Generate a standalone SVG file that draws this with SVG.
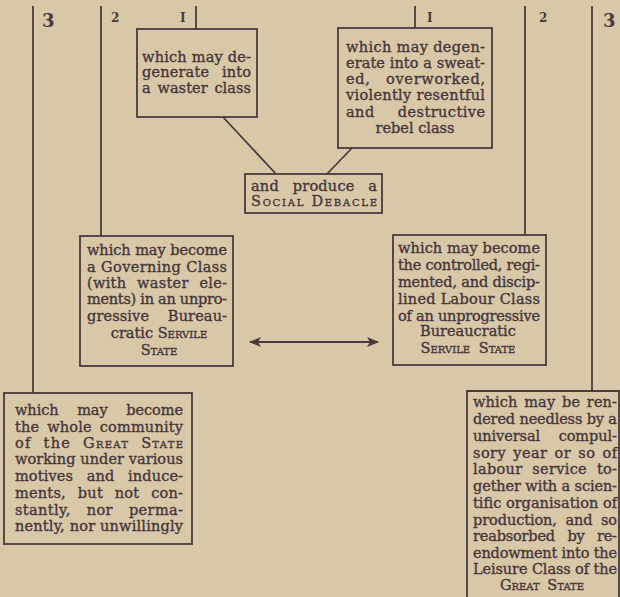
<svg xmlns="http://www.w3.org/2000/svg" width="620" height="597" viewBox="0 0 620 597">
<style>
.bg{fill:#d9c8a8}
.box{fill:none;stroke:#4a3a3e;stroke-width:1.8}
.ln{stroke:#4a3a3e;stroke-width:1.8;fill:none}
.t{font-family:"DejaVu Serif","Liberation Serif",serif;font-size:14.5px;fill:#45363a;stroke:#45363a;stroke-width:0.35}
.c{text-anchor:middle}
.sc{font-variant:small-caps}
.num{font-family:"DejaVu Serif","Liberation Serif",serif;font-weight:bold;fill:#4a3a3e}
</style>
<defs>
<marker id="ah" viewBox="0 0 12 10" refX="11" refY="5" markerWidth="12" markerHeight="10" markerUnits="userSpaceOnUse" orient="auto-start-reverse">
<path d="M0,0 L12,5 L0,10 L3,5 Z" fill="#4a3a3e"/>
</marker>
</defs>
<rect class="bg" x="0" y="0" width="620" height="597"/>

<g id="connectors">
<line class="ln" x1="33" y1="6" x2="33" y2="393"/>
<line class="ln" x1="101" y1="6" x2="101" y2="236"/>
<line class="ln" x1="196" y1="6" x2="196" y2="29"/>
<line class="ln" x1="415" y1="6" x2="415" y2="28"/>
<line class="ln" x1="525" y1="6" x2="525" y2="235"/>
<line class="ln" x1="592" y1="6" x2="592" y2="391"/>
<line class="ln" x1="223" y1="117" x2="276" y2="174"/>
<line class="ln" x1="352" y1="148" x2="327" y2="174"/>
<line class="ln" x1="250" y1="342" x2="378" y2="342" marker-start="url(#ah)" marker-end="url(#ah)"/>
</g>

<g id="labels">
<text class="num" x="42" y="27" font-size="18">3</text>
<text class="num" x="111" y="22" font-size="12">2</text>
<text class="num" x="180" y="22" font-size="12">I</text>
<text class="num" x="427" y="22" font-size="12">I</text>
<text class="num" x="539" y="22" font-size="12">2</text>
<text class="num" x="603" y="27" font-size="18">3</text>
</g>

<g id="waster">
<rect class="box" x="137" y="29" width="120" height="88"/>
<text class="t" x="142" y="62" textLength="109" lengthAdjust="spacing">which may de-</text>
<text class="t" x="142" y="77" textLength="109" lengthAdjust="spacing" word-spacing="8">generate into</text>
<text class="t" x="142" y="93" textLength="109" lengthAdjust="spacing" word-spacing="2">a waster class</text>
</g>

<g id="rebel">
<rect class="box" x="338" y="28" width="154" height="120"/>
<text class="t" x="346" y="52" textLength="139" lengthAdjust="spacing">which may degen-</text>
<text class="t" x="346" y="68" textLength="139" lengthAdjust="spacing">erate into a sweat-</text>
<text class="t" x="346" y="84" textLength="139" lengthAdjust="spacing" word-spacing="10">ed, overworked,</text>
<text class="t" x="346" y="100" textLength="139" lengthAdjust="spacing">violently resentful</text>
<text class="t" x="346" y="117" textLength="139" lengthAdjust="spacing" word-spacing="18">and destructive</text>
<text class="t c" x="415" y="133">rebel class</text>
</g>

<g id="debacle">
<rect class="box" x="245" y="174" width="137" height="39"/>
<text class="t" x="251" y="191" textLength="126" lengthAdjust="spacing" word-spacing="9">and produce a</text>
<text class="t sc" x="251" y="206" textLength="126" lengthAdjust="spacing">Social Debacle</text>
</g>

<g id="governing">
<rect class="box" x="80" y="236" width="153" height="130"/>
<text class="t" x="87" y="255" textLength="140" lengthAdjust="spacing">which may become</text>
<text class="t" x="87" y="272" textLength="140" lengthAdjust="spacing">a Governing Class</text>
<text class="t" x="87" y="288" textLength="140" lengthAdjust="spacing" word-spacing="6">(with waster ele-</text>
<text class="t" x="87" y="304" textLength="140" lengthAdjust="spacing">ments) in an unpro-</text>
<text class="t" x="87" y="321" textLength="140" lengthAdjust="spacing" word-spacing="14">gressive Bureau-</text>
<text class="t c" x="159" y="338">cratic <tspan class="sc">Servile</tspan></text>
<text class="t c sc" x="159" y="355">State</text>
</g>

<g id="labour">
<rect class="box" x="393" y="235" width="153" height="130"/>
<text class="t" x="398" y="253" textLength="142" lengthAdjust="spacing">which may become</text>
<text class="t" x="398" y="270" textLength="142" lengthAdjust="spacing">the controlled, regi-</text>
<text class="t" x="398" y="287" textLength="142" lengthAdjust="spacing">mented, and discip-</text>
<text class="t" x="398" y="304" textLength="142" lengthAdjust="spacing">lined Labour Class</text>
<text class="t" x="398" y="321" textLength="142" lengthAdjust="spacing">of an unprogressive</text>
<text class="t c" x="468" y="336">Bureaucratic</text>
<text class="t c sc" x="468" y="353" word-spacing="4">Servile State</text>
</g>

<g id="community">
<rect class="box" x="4" y="393" width="188" height="151"/>
<text class="t" x="15" y="415" textLength="168" lengthAdjust="spacing" word-spacing="14">which may become</text>
<text class="t" x="15" y="432" textLength="168" lengthAdjust="spacing" word-spacing="3">the whole community</text>
<text class="t" x="15" y="448" textLength="168" lengthAdjust="spacing" word-spacing="6">of the <tspan class="sc">Great State</tspan></text>
<text class="t" x="15" y="464" textLength="168" lengthAdjust="spacing">working under various</text>
<text class="t" x="15" y="481" textLength="168" lengthAdjust="spacing" word-spacing="9">motives and induce-</text>
<text class="t" x="15" y="498" textLength="168" lengthAdjust="spacing" word-spacing="7">ments, but not con-</text>
<text class="t" x="15" y="515" textLength="168" lengthAdjust="spacing" word-spacing="11">stantly, nor perma-</text>
<text class="t" x="15" y="531" textLength="168" lengthAdjust="spacing">nently, nor unwillingly</text>
</g>

<g id="leisure">
<path class="box" d="M467,600 L467,391 L619,391 L619,600"/>
<text class="t" x="473" y="407" textLength="144" lengthAdjust="spacing" word-spacing="2">which may be ren-</text>
<text class="t" x="473" y="424" textLength="144" lengthAdjust="spacing">dered needless by a</text>
<text class="t" x="473" y="441" textLength="144" lengthAdjust="spacing" word-spacing="14">universal compul-</text>
<text class="t" x="473" y="458" textLength="144" lengthAdjust="spacing" word-spacing="2">sory year or so of</text>
<text class="t" x="473" y="474" textLength="144" lengthAdjust="spacing" word-spacing="5">labour service to-</text>
<text class="t" x="473" y="491" textLength="144" lengthAdjust="spacing">gether with a scien-</text>
<text class="t" x="473" y="508" textLength="144" lengthAdjust="spacing">tific organisation of</text>
<text class="t" x="473" y="525" textLength="144" lengthAdjust="spacing" word-spacing="4">production, and so</text>
<text class="t" x="473" y="541" textLength="144" lengthAdjust="spacing" word-spacing="8">reabsorbed by re-</text>
<text class="t" x="473" y="558" textLength="144" lengthAdjust="spacing">endowment into the</text>
<text class="t" x="473" y="574" textLength="144" lengthAdjust="spacing">Leisure Class of the</text>
<text class="t c sc" x="542" y="590" word-spacing="3">Great State</text>
</g>
</svg>
